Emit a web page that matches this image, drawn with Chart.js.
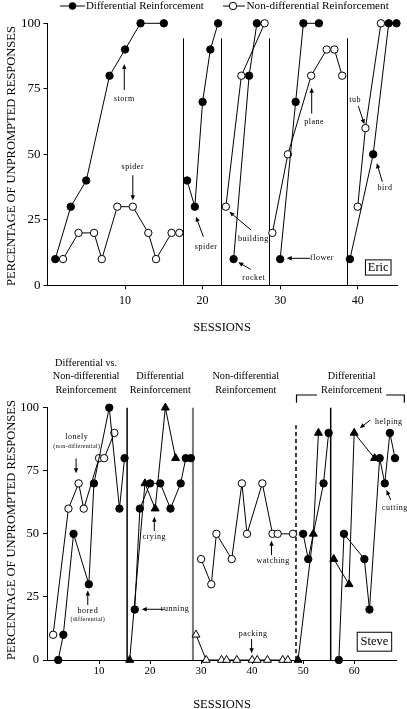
<!DOCTYPE html>
<html>
<head>
<meta charset="utf-8">
<script src="https://cdn.jsdelivr.net/npm/chart.js@4"></script>
<style>
html, body { margin: 0; padding: 0; background: #fff; }
#wrap { position: relative; width: 407px; height: 709px; }
canvas { position: absolute; left: 0; top: 0; }
</style>
</head>
<body>
<div id="wrap">
  <canvas id="eric" width="407" height="709"></canvas>
  <canvas id="steve" width="407" height="709"></canvas>
</div>
<script>
// ---- data (one inner list per phase) ----
const yTicks = [0, 25, 50, 75, 100];
const ericXTicks = [10, 20, 30, 40];
const steveXTicks = [10, 20, 30, 40, 50, 60];

// Eric
const ericDiffSessions = [[1, 3, 5, 8, 10, 12, 15], [18, 19, 20, 21, 22], [24, 26, 27], [30, 32, 33, 35], [39, 42, 44, 45]];
const ericDiffValues   = [[10, 30, 40, 80, 90, 100, 100], [40, 30, 70, 90, 100], [10, 80, 100], [10, 70, 100, 100], [10, 50, 100, 100]];
const ericNonSessions  = [[2, 4, 6, 7, 9, 11, 13, 14, 16, 17], [], [23, 25, 28], [29, 31, 34, 36, 37, 38], [40, 41, 43]];
const ericNonValues    = [[10, 20, 20, 10, 30, 30, 20, 10, 20, 20], [], [30, 80, 100], [20, 50, 80, 90, 90, 80], [30, 60, 100]];
const ericPhaseChanges = [17.45, 22.4, 28.55, 38.6];

// Steve
const steveDiffSessions = [[2, 3, 5, 8, 9, 12, 14, 15], [17, 18, 20, 22, 24, 26, 27, 28], [], [50, 51, 54, 55], [57, 58, 62, 63, 65, 66, 67, 68]];
const steveDiffValues   = [[0, 10, 50, 30, 70, 100, 60, 80], [20, 60, 70, 70, 60, 70, 80, 80], [], [50, 40, 70, 90], [0, 50, 40, 20, 80, 70, 90, 80]];
const steveDiffTriSessions = [[], [16, 19, 21, 23, 25], [], [49, 52, 53], [56, 59, 60, 64]];
const steveDiffTriValues   = [[], [0, 70, 60, 100, 80], [], [0, 50, 90], [40, 30, 90, 80]];
const steveNonSessions = [[1, 4, 6, 7, 10, 11, 13], [], [30, 32, 33, 36, 38, 39, 42, 44, 45, 48], [], []];
const steveNonValues   = [[10, 60, 70, 60, 80, 80, 90], [], [40, 30, 50, 40, 70, 50, 70, 50, 50, 50], [], []];
const steveNonTriSessions = [[], [], [29, 31, 34, 35, 37, 40, 41, 43, 46, 47], [], []];
const steveNonTriValues   = [[], [], [10, 0, 0, 0, 0, 0, 0, 0, 0, 0], [], []];
const stevePhaseChanges = [15.5, 28.4, 48.6, 55.4];

// ---- styles ----
const serif = '"Liberation Serif", "Times New Roman", serif';
const base = { showLine: true, borderColor: '#000', borderWidth: 1, pointBorderColor: '#000', pointBorderWidth: 1, clip: false };
const filledDot = { ...base, pointStyle: 'circle', pointRadius: 3.7, pointBackgroundColor: '#000' };
const openDot   = { ...base, pointStyle: 'circle', pointRadius: 3.7, pointBackgroundColor: '#fff' };
const filledTri = { ...base, pointStyle: 'triangle', pointRadius: 4.6, pointBackgroundColor: '#000' };
const openTri   = { ...base, pointStyle: 'triangle', pointRadius: 4.6, pointBackgroundColor: '#fff' };

function phaseSets(sessions, values, style) {
  return sessions.map((s, i) => ({
    ...style,
    data: s.map((x, j) => ({ x: x, y: values[i][j] }))
  })).filter(d => d.data.length);
}

function txt(ctx, s, x, y, size, align, spacing) {
  ctx.save();
  ctx.font = size + 'px ' + serif;
  ctx.fillStyle = '#000';
  ctx.textAlign = align || 'center';
  ctx.textBaseline = 'middle';
  if (spacing) ctx.letterSpacing = spacing + 'px';
  ctx.fillText(s, x, y);
  ctx.restore();
}

// left-aligned text sized so it spans the given width
function fitTxt(ctx, s, x, y, width) {
  ctx.save();
  ctx.font = '10px ' + serif;
  const size = 10 * width / ctx.measureText(s).width;
  ctx.restore();
  txt(ctx, s, x, y, size, 'left');
}

function arrow(ctx, x1, y1, x2, y2) {
  const a = Math.atan2(y2 - y1, x2 - x1), L = 5, W = 2.2;
  const c = Math.cos(a), s = Math.sin(a);
  ctx.save();
  ctx.strokeStyle = '#000'; ctx.fillStyle = '#000'; ctx.lineWidth = 1;
  ctx.beginPath(); ctx.moveTo(x1, y1); ctx.lineTo(x2 - L * c * 0.8, y2 - L * s * 0.8); ctx.stroke();
  ctx.beginPath();
  ctx.moveTo(x2, y2);
  ctx.lineTo(x2 - L * c + W * s, y2 - L * s - W * c);
  ctx.lineTo(x2 - L * c - W * s, y2 - L * s + W * c);
  ctx.closePath(); ctx.fill();
  ctx.restore();
}

function drawNotes(chart, notes) {
  const ctx = chart.ctx, xs = chart.scales.x, ys = chart.scales.y;
  notes.forEach(n => {
    txt(ctx, n.t, xs.getPixelForValue(n.x), ys.getPixelForValue(n.y), 8, 'center', 0.5);
    if (n.sub) txt(ctx, n.sub, xs.getPixelForValue(n.x), ys.getPixelForValue(n.subY), 6, 'center', 0.3);
    arrow(ctx, xs.getPixelForValue(n.from[0]), ys.getPixelForValue(n.from[1]),
               xs.getPixelForValue(n.to[0]), ys.getPixelForValue(n.to[1]));
  });
}

function nameBox(chart, name, x1, x2, y1, y2) {
  const ctx = chart.ctx, xs = chart.scales.x, ys = chart.scales.y;
  const l = xs.getPixelForValue(x1), r = xs.getPixelForValue(x2);
  const t = ys.getPixelForValue(y2), b = ys.getPixelForValue(y1);
  ctx.save();
  ctx.fillStyle = '#fff'; ctx.fillRect(l, t, r - l, b - t);
  ctx.strokeStyle = '#000'; ctx.lineWidth = 1; ctx.strokeRect(l, t, r - l, b - t);
  ctx.restore();
  txt(ctx, name, (l + r) / 2, (t + b) / 2 + 0.5, 12.5);
}

function axisTitles(chart, yCenter, xLabelY) {
  const ctx = chart.ctx;
  ctx.save();
  ctx.translate(12, yCenter);
  ctx.rotate(-Math.PI / 2);
  txt(ctx, 'PERCENTAGE OF UNPROMPTED RESPONSES', 0, 0, 12.5);
  ctx.restore();
  txt(ctx, 'SESSIONS', 222, xLabelY, 12.5);
}

function scalesFor(xMin, xMax, xTicks, yWidth, xHeight, xFont, yFont, xPad, yPad) {
  const grid = { drawOnChartArea: false, drawTicks: true, tickLength: 4, color: '#000', lineWidth: 1 };
  return {
    x: {
      type: 'linear', min: xMin, max: xMax,
      afterBuildTicks: s => { s.ticks = xTicks.map(v => ({ value: v })); },
      afterFit: s => { s.height = xHeight; },
      grid: grid, border: { display: true, color: '#000', width: 1 },
      ticks: { color: '#000', font: { family: serif, size: xFont }, padding: xPad, maxRotation: 0, autoSkip: false }
    },
    y: {
      min: 0, max: 100,
      afterBuildTicks: s => { s.ticks = yTicks.map(v => ({ value: v })); },
      afterFit: s => { s.width = yWidth; },
      grid: grid, border: { display: true, color: '#000', width: 1 },
      ticks: { color: '#000', font: { family: serif, size: yFont }, padding: yPad }
    }
  };
}

const common = {
  responsive: false,
  animation: false,
  events: [],
  plugins: { legend: { display: false }, tooltip: { enabled: false } }
};

// ---- Eric ----
const ericNotes = [
  { t: 'storm', x: 9.9, y: 71, from: [9.9, 74.5], to: [9.9, 84.5] },
  { t: 'spider', x: 11, y: 45.3, from: [11, 42], to: [11, 32.5] },
  { t: 'spider', x: 20.45, y: 14.6, from: [20.1, 18.5], to: [19.15, 26.2] },
  { t: 'building', x: 26.55, y: 17.6, from: [26.25, 21.1], to: [23.45, 28.1] },
  { t: 'rocket', x: 26.6, y: 2.9, from: [26.2, 6.1], to: [24.6, 8.8] },
  { t: 'flower', x: 35.4, y: 10.3, from: [33.85, 10.3], to: [30.85, 10.3] },
  { t: 'plane', x: 34.4, y: 62.4, from: [34.07, 65.6], to: [34.07, 75.4] },
  { t: 'tub', x: 39.66, y: 70.7, from: [40.08, 68.4], to: [40.86, 61.5] },
  { t: 'bird', x: 43.53, y: 37, from: [43.18, 39.5], to: [42.46, 46.6] }
];

const ericDecor = {
  id: 'ericDecor',
  beforeDatasetsDraw(chart) {
    const ctx = chart.ctx, xs = chart.scales.x, ys = chart.scales.y;
    ctx.save();
    ctx.strokeStyle = '#000'; ctx.lineWidth = 1;
    ericPhaseChanges.forEach(v => {
      const x = Math.round(xs.getPixelForValue(v)) + 0.5;
      ctx.beginPath(); ctx.moveTo(x, ys.getPixelForValue(0)); ctx.lineTo(x, ys.getPixelForValue(94.3)); ctx.stroke();
    });
    ctx.restore();
  },
  afterDraw(chart) {
    const ctx = chart.ctx;
    drawNotes(chart, ericNotes);
    nameBox(chart, 'Eric', 41.0, 44.3, 3.9, 9.7);
    axisTitles(chart, 156, 328);
    // legend
    const ly = 6;
    ctx.save();
    ctx.strokeStyle = '#000'; ctx.lineWidth = 1;
    ctx.beginPath(); ctx.moveTo(60, ly); ctx.lineTo(85, ly); ctx.moveTo(223, ly); ctx.lineTo(245, ly); ctx.stroke();
    ctx.beginPath(); ctx.arc(72.5, ly, 3.7, 0, Math.PI * 2); ctx.fillStyle = '#000'; ctx.fill();
    ctx.beginPath(); ctx.arc(233, ly, 3.7, 0, Math.PI * 2); ctx.fillStyle = '#fff'; ctx.fill(); ctx.stroke();
    ctx.restore();
    fitTxt(ctx, 'Differential Reinforcement', 86, ly + 0.5, 118);
    fitTxt(ctx, 'Non-differential Reinforcement', 246.5, ly + 0.5, 142.5);
  }
};

new Chart(document.getElementById('eric'), {
  type: 'scatter',
  data: {
    datasets: [
      ...phaseSets(ericDiffSessions, ericDiffValues, filledDot),
      ...phaseSets(ericNonSessions, ericNonValues, openDot)
    ]
  },
  options: {
    ...common,
    layout: { autoPadding: false, padding: { top: 23.3, right: 9.3, left: 0, bottom: 709 - 285.3 - 22 } },
    scales: scalesFor(0, 45.16, ericXTicks, 47.5, 22, 12, 13, 4, 3)
  },
  plugins: [ericDecor]
});

// ---- Steve ----
const steveNotes = [
  { t: 'lonely', x: 5.64, y: 88.3, sub: '(non-differential)', subY: 84.5, from: [5.5, 79.9], to: [5.5, 74] },
  { t: 'bored', x: 7.79, y: 19.5, sub: '(differential)', subY: 15.9, from: [7.79, 21.8], to: [7.79, 27.5] },
  { t: 'crying', x: 20.83, y: 48.9, from: [20.83, 51.1], to: [20.83, 56.8] },
  { t: 'running', x: 24.89, y: 20.1, from: [22.79, 20.1], to: [18.37, 20.1] },
  { t: 'packing', x: 40.2, y: 10.2, from: [39.9, 8.3], to: [39.9, 2.7] },
  { t: 'watching', x: 44.13, y: 39.4, from: [43.8, 41.6], to: [43.8, 47.3] },
  { t: 'helping', x: 66.8, y: 94.5, from: [63.17, 95.1], to: [61.1, 91.9] },
  { t: 'cutting', x: 67.97, y: 60.1, from: [67.18, 63.4], to: [66.33, 67.4] }
];
const stevePhaseNames = [
  { x: 7.46, lines: ['Differential vs.', 'Non-differential', 'Reinforcement'] },
  { x: 22.0, lines: ['Differential', 'Reinforcement'] },
  { x: 38.75, lines: ['Non-differential', 'Reinforcement'] },
  { x: 59.5, lines: ['Differential', 'Reinforcement'] }
];

const steveDecor = {
  id: 'steveDecor',
  beforeDatasetsDraw(chart) {
    const ctx = chart.ctx, xs = chart.scales.x, ys = chart.scales.y;
    const y0 = ys.getPixelForValue(0);
    const looks = [
      { color: '#000', width: 1.5, dash: [], top: 100 },
      { color: '#777', width: 2, dash: [], top: 100 },
      { color: '#000', width: 1.5, dash: [4, 3], top: 93 },
      { color: '#000', width: 1.5, dash: [], top: 100 }
    ];
    stevePhaseChanges.forEach((v, i) => {
      const lk = looks[i], x = xs.getPixelForValue(v);
      ctx.save();
      ctx.strokeStyle = lk.color; ctx.lineWidth = lk.width; ctx.setLineDash(lk.dash);
      ctx.beginPath(); ctx.moveTo(x, y0); ctx.lineTo(x, ys.getPixelForValue(lk.top)); ctx.stroke();
      ctx.restore();
    });
  },
  afterDraw(chart) {
    const ctx = chart.ctx, xs = chart.scales.x, top = chart.chartArea.top;
    drawNotes(chart, steveNotes);
    nameBox(chart, 'Steve', 60.6, 67.35, 3.5, 11);
    axisTitles(chart, 530, 705);
    stevePhaseNames.forEach(p => {
      const n = p.lines.length;
      p.lines.forEach((s, i) => txt(ctx, s, xs.getPixelForValue(p.x), top - 17.7 - (n - 1 - i) * 13.3, 10.3));
    });
    // bracket over the last two phases
    const bl = xs.getPixelForValue(48.7), br = 404.3, by = top - 12.7;
    ctx.save();
    ctx.font = '10.3px ' + serif;
    const half = ctx.measureText('Reinforcement').width / 2 + 4;
    const cx = xs.getPixelForValue(59.5);
    ctx.strokeStyle = '#000'; ctx.lineWidth = 1.2;
    ctx.beginPath();
    ctx.moveTo(bl, top - 5); ctx.lineTo(bl, by); ctx.lineTo(cx - half, by);
    ctx.moveTo(cx + half, by); ctx.lineTo(br, by); ctx.lineTo(br, top - 5);
    ctx.stroke();
    ctx.restore();
  }
};

new Chart(document.getElementById('steve'), {
  type: 'scatter',
  data: {
    datasets: [
      ...phaseSets(steveDiffSessions, steveDiffValues, filledDot),
      ...phaseSets(steveDiffTriSessions, steveDiffTriValues, filledTri),
      ...phaseSets(steveNonSessions, steveNonValues, openDot),
      ...phaseSets(steveNonTriSessions, steveNonTriValues, openTri)
    ]
  },
  options: {
    ...common,
    layout: { autoPadding: false, padding: { top: 407.7, right: 11, left: 0, bottom: 709 - 660 - 20 } },
    scales: scalesFor(-0.2, 68.2, steveXTicks, 47, 20, 11, 12.5, 1, 4)
  },
  plugins: [steveDecor]
});
</script>
</body>
</html>
